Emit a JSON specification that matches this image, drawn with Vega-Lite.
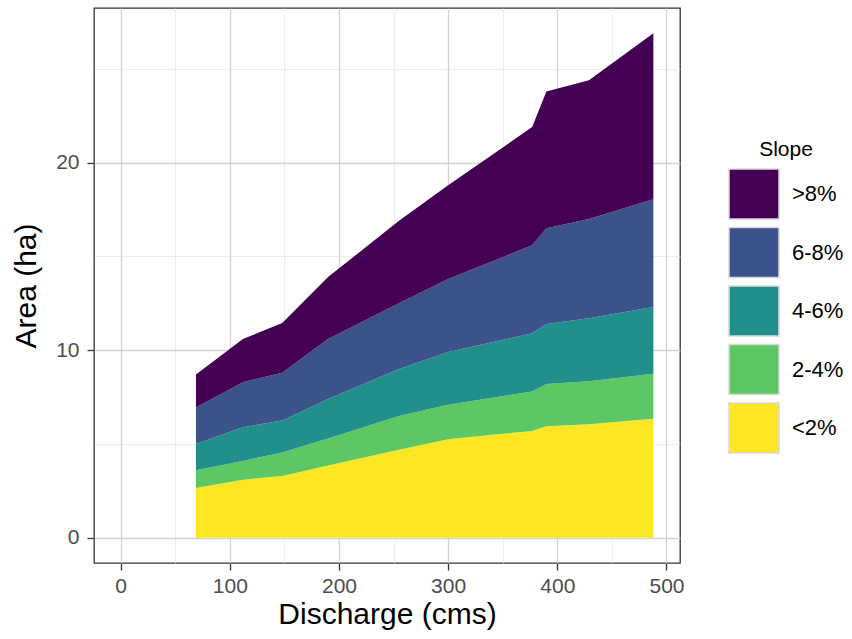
{
  "$schema": "https://vega.github.io/schema/vega-lite/v6.json",
  "width": 586,
  "height": 555,
  "autosize": {"type": "none"},
  "padding": {"left": 94, "top": 8, "right": 172, "bottom": 76},
  "background": "white",
  "config": {
    "font": "Liberation Sans",
    "view": {"stroke": "#333333", "strokeWidth": 1.3},
    "axis": {
      "domain": false,
      "gridColor": "#d2d2d2",
      "tickColor": "#333333",
      "tickWidth": 1.3,
      "tickSize": 7,
      "labelColor": "#4d4d4d",
      "labelFontSize": 21,
      "labelPadding": 5,
      "titleColor": "#000000",
      "titleFontSize": 30,
      "titleFontWeight": "normal"
    }
  },
  "datasets": {
    "slopeClasses": [
      {"Slope": "<2%", "Rank": 1},
      {"Slope": "2-4%", "Rank": 2},
      {"Slope": "4-6%", "Rank": 3},
      {"Slope": "6-8%", "Rank": 4},
      {"Slope": ">8%", "Rank": 5}
    ]
  },
  "data": {
    "values": [
      {"Discharge": 69, "Slope": "<2%", "Area": 2.65},
      {"Discharge": 69, "Slope": "2-4%", "Area": 0.95},
      {"Discharge": 69, "Slope": "4-6%", "Area": 1.4},
      {"Discharge": 69, "Slope": "6-8%", "Area": 1.95},
      {"Discharge": 69, "Slope": ">8%", "Area": 1.75},
      {"Discharge": 112, "Slope": "<2%", "Area": 3.1},
      {"Discharge": 112, "Slope": "2-4%", "Area": 1.0},
      {"Discharge": 112, "Slope": "4-6%", "Area": 1.8},
      {"Discharge": 112, "Slope": "6-8%", "Area": 2.4},
      {"Discharge": 112, "Slope": ">8%", "Area": 2.3},
      {"Discharge": 148, "Slope": "<2%", "Area": 3.3},
      {"Discharge": 148, "Slope": "2-4%", "Area": 1.25},
      {"Discharge": 148, "Slope": "4-6%", "Area": 1.7},
      {"Discharge": 148, "Slope": "6-8%", "Area": 2.55},
      {"Discharge": 148, "Slope": ">8%", "Area": 2.65},
      {"Discharge": 190, "Slope": "<2%", "Area": 3.85},
      {"Discharge": 190, "Slope": "2-4%", "Area": 1.45},
      {"Discharge": 190, "Slope": "4-6%", "Area": 2.1},
      {"Discharge": 190, "Slope": "6-8%", "Area": 3.2},
      {"Discharge": 190, "Slope": ">8%", "Area": 3.3},
      {"Discharge": 255, "Slope": "<2%", "Area": 4.7},
      {"Discharge": 255, "Slope": "2-4%", "Area": 1.8},
      {"Discharge": 255, "Slope": "4-6%", "Area": 2.5},
      {"Discharge": 255, "Slope": "6-8%", "Area": 3.5},
      {"Discharge": 255, "Slope": ">8%", "Area": 4.4},
      {"Discharge": 300, "Slope": "<2%", "Area": 5.25},
      {"Discharge": 300, "Slope": "2-4%", "Area": 1.85},
      {"Discharge": 300, "Slope": "4-6%", "Area": 2.8},
      {"Discharge": 300, "Slope": "6-8%", "Area": 3.9},
      {"Discharge": 300, "Slope": ">8%", "Area": 5.0},
      {"Discharge": 377, "Slope": "<2%", "Area": 5.7},
      {"Discharge": 377, "Slope": "2-4%", "Area": 2.1},
      {"Discharge": 377, "Slope": "4-6%", "Area": 3.1},
      {"Discharge": 377, "Slope": "6-8%", "Area": 4.7},
      {"Discharge": 377, "Slope": ">8%", "Area": 6.3},
      {"Discharge": 390, "Slope": "<2%", "Area": 5.95},
      {"Discharge": 390, "Slope": "2-4%", "Area": 2.25},
      {"Discharge": 390, "Slope": "4-6%", "Area": 3.2},
      {"Discharge": 390, "Slope": "6-8%", "Area": 5.1},
      {"Discharge": 390, "Slope": ">8%", "Area": 7.3},
      {"Discharge": 429, "Slope": "<2%", "Area": 6.05},
      {"Discharge": 429, "Slope": "2-4%", "Area": 2.3},
      {"Discharge": 429, "Slope": "4-6%", "Area": 3.35},
      {"Discharge": 429, "Slope": "6-8%", "Area": 5.3},
      {"Discharge": 429, "Slope": ">8%", "Area": 7.4},
      {"Discharge": 488, "Slope": "<2%", "Area": 6.35},
      {"Discharge": 488, "Slope": "2-4%", "Area": 2.4},
      {"Discharge": 488, "Slope": "4-6%", "Area": 3.55},
      {"Discharge": 488, "Slope": "6-8%", "Area": 5.75},
      {"Discharge": 488, "Slope": ">8%", "Area": 8.85}
    ]
  },
  "transform": [
    {"lookup": "Slope", "from": {"data": {"name": "slopeClasses"}, "key": "Slope", "fields": ["Rank"]}}
  ],
  "mark": {"type": "area", "interpolate": "linear", "opacity": 1},
  "encoding": {
    "x": {
      "field": "Discharge",
      "type": "quantitative",
      "title": "Discharge (cms)",
      "scale": {"domain": [-24.4, 512.4], "nice": false, "zero": false},
      "axis": {
        "values": [0, 50, 100, 150, 200, 250, 300, 350, 400, 450, 500],
        "labelExpr": "datum.value % 100 === 0 ? datum.label : ''",
        "labelFlush": false,
        "labelOverlap": false,
        "tickOpacity": {"condition": {"test": "datum.value % 100 !== 0", "value": 0}, "value": 1},
        "gridWidth": {"condition": {"test": "datum.value % 100 !== 0", "value": 0.7}, "value": 1.3},
        "gridColor": {"condition": {"test": "datum.value % 100 !== 0", "value": "#e4e4e4"}, "value": "#d2d2d2"},
        "titlePadding": 3
      }
    },
    "y": {
      "field": "Area",
      "type": "quantitative",
      "stack": "zero",
      "title": "Area (ha)",
      "scale": {"domain": [-1.345, 28.25], "nice": false, "zero": false},
      "axis": {
        "values": [0, 5, 10, 15, 20, 25],
        "labelExpr": "datum.value % 10 === 0 ? datum.label : ''",
        "labelFlush": false,
        "labelOverlap": false,
        "labelPadding": 8,
        "tickOpacity": {"condition": {"test": "datum.value % 10 !== 0", "value": 0}, "value": 1},
        "gridWidth": {"condition": {"test": "datum.value % 10 !== 0", "value": 0.7}, "value": 1.3},
        "gridColor": {"condition": {"test": "datum.value % 10 !== 0", "value": "#e4e4e4"}, "value": "#d2d2d2"},
        "titlePadding": 14
      }
    },
    "order": {"field": "Rank", "type": "quantitative", "sort": "ascending"},
    "color": {
      "field": "Slope",
      "type": "nominal",
      "sort": [">8%", "6-8%", "4-6%", "2-4%", "<2%"],
      "scale": {
        "domain": [">8%", "6-8%", "4-6%", "2-4%", "<2%"],
        "range": ["#440154", "#3b528b", "#21908c", "#5dc863", "#fde725"]
      },
      "legend": {
        "orient": "none",
        "legendX": 634,
        "legendY": 131,
        "title": "Slope",
        "titleFontSize": 21,
        "titleFontWeight": "normal",
        "titleColor": "#000000",
        "titleAnchor": "middle",
        "titlePadding": 8,
        "symbolType": "square",
        "symbolSize": 2500,
        "symbolOpacity": 1,
        "symbolStrokeColor": "#d9d9d9",
        "symbolStrokeWidth": 1.5,
        "labelFontSize": 22,
        "labelColor": "#000000",
        "labelOffset": 12,
        "rowPadding": 2.5,
        "padding": 0
      }
    }
  }
}
